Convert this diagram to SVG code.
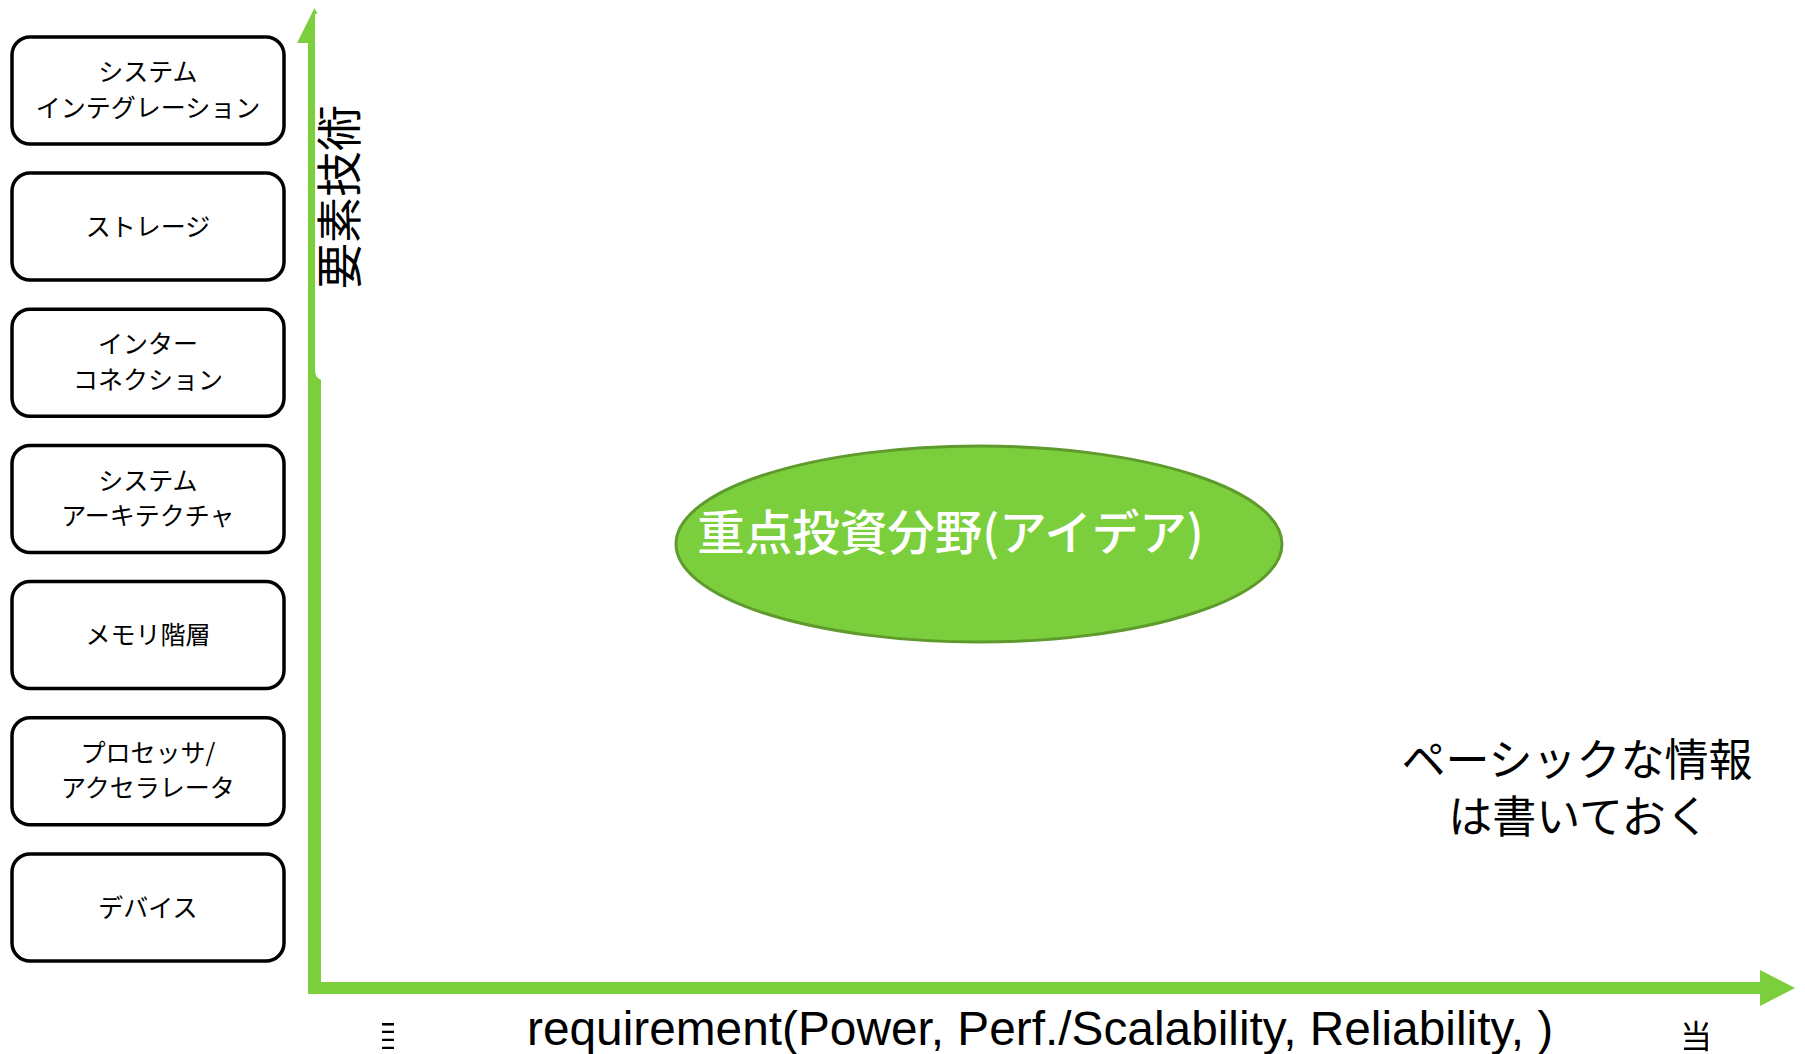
<svg xmlns="http://www.w3.org/2000/svg" width="1805" height="1054" viewBox="0 0 1805 1054">
  <defs>
    <style>
      .box { fill: #ffffff; stroke: #000000; stroke-width: 3.5; }
      .bt { font-family: "Noto Sans CJK JP", "Noto Sans", sans-serif; font-size: 25px; fill: #000000; text-anchor: middle; }
      .axis { fill: #7ccf3c; }
      .jp { font-family: "Noto Sans CJK JP", "Noto Sans", sans-serif; fill: #000000; }
    </style>
    <clipPath id="fragL"><rect x="382" y="1018" width="12" height="36"/></clipPath>
    <clipPath id="fragR"><rect x="1684" y="1016" width="24" height="38"/></clipPath>
  </defs>
  <rect x="0" y="0" width="1805" height="1054" fill="#ffffff"/>

  <g id="connectors">
    <!-- vertical axis -->
    <rect class="axis" x="308" y="40" width="13" height="954"/>
    <polygon class="axis" points="314.5,8 332,43 297,43"/>
    <!-- horizontal axis -->
    <rect class="axis" x="308" y="982" width="1455" height="12"/>
    <polygon class="axis" points="1795,988 1760,1006 1760,970"/>
    <!-- white text box covering part of vertical axis -->
    <path d="M315,14 H380 V380 H322 Q315,378 315,370 Z" fill="#ffffff"/>
  </g>

  <g id="axis-label-y">
    <text class="jp" font-size="46" text-anchor="middle" transform="translate(355.5,197) rotate(-90)">要素技術</text>
  </g>

  <g id="node-system-integration">
    <rect class="box" x="12" y="37" width="272" height="107" rx="18"/>
    <text class="bt" x="148" y="81">システム</text>
    <text class="bt" x="148" y="116.5">インテグレーション</text>
  </g>
  <g id="node-storage">
    <rect class="box" x="12" y="173" width="272" height="107" rx="18"/>
    <text class="bt" x="148" y="235.5">ストレージ</text>
  </g>
  <g id="node-interconnection">
    <rect class="box" x="12" y="309.3" width="272" height="107" rx="18"/>
    <text class="bt" x="148" y="353.3">インター</text>
    <text class="bt" x="148" y="388.8">コネクション</text>
  </g>
  <g id="node-system-architecture">
    <rect class="box" x="12" y="445.5" width="272" height="107" rx="18"/>
    <text class="bt" x="148" y="489.5">システム</text>
    <text class="bt" x="148" y="525">アーキテクチャ</text>
  </g>
  <g id="node-memory">
    <rect class="box" x="12" y="581.6" width="272" height="107" rx="18"/>
    <text class="bt" x="148" y="644.1">メモリ階層</text>
  </g>
  <g id="node-processor">
    <rect class="box" x="12" y="717.8" width="272" height="107" rx="18"/>
    <text class="bt" x="148" y="761.8">プロセッサ/</text>
    <text class="bt" x="148" y="797.3">アクセラレータ</text>
  </g>
  <g id="node-device">
    <rect class="box" x="12" y="854" width="272" height="107" rx="18"/>
    <text class="bt" x="148" y="916.5">デバイス</text>
  </g>

  <g id="node-idea">
    <ellipse cx="979" cy="544" rx="303" ry="98" fill="#7ccf3c" stroke="#5e9a2c" stroke-width="3"/>
    <text font-family="Noto Sans CJK JP, Noto Sans, sans-serif" font-size="47.5" font-weight="500" fill="#ffffff" text-anchor="middle" x="950.5" y="549.5">重点投資分野(アイデア)</text>
  </g>

  <g id="note">
    <text class="jp" font-size="44" text-anchor="middle" x="1577" y="776">ペーシックな情報</text>
    <text class="jp" font-size="44" text-anchor="middle" x="1579" y="833">は書いておく</text>
  </g>

  <g id="axis-label-x">
    <text font-family="Liberation Sans, Arial, sans-serif" font-size="47.8" fill="#000000" x="527" y="1045">requirement(Power, Perf./Scalability, Reliability, )</text>
    <text class="jp" font-size="32" x="370" y="1048" clip-path="url(#fragL)">目</text>
    <text class="jp" font-size="32" x="1680" y="1048" clip-path="url(#fragR)">当</text>
  </g>
</svg>
